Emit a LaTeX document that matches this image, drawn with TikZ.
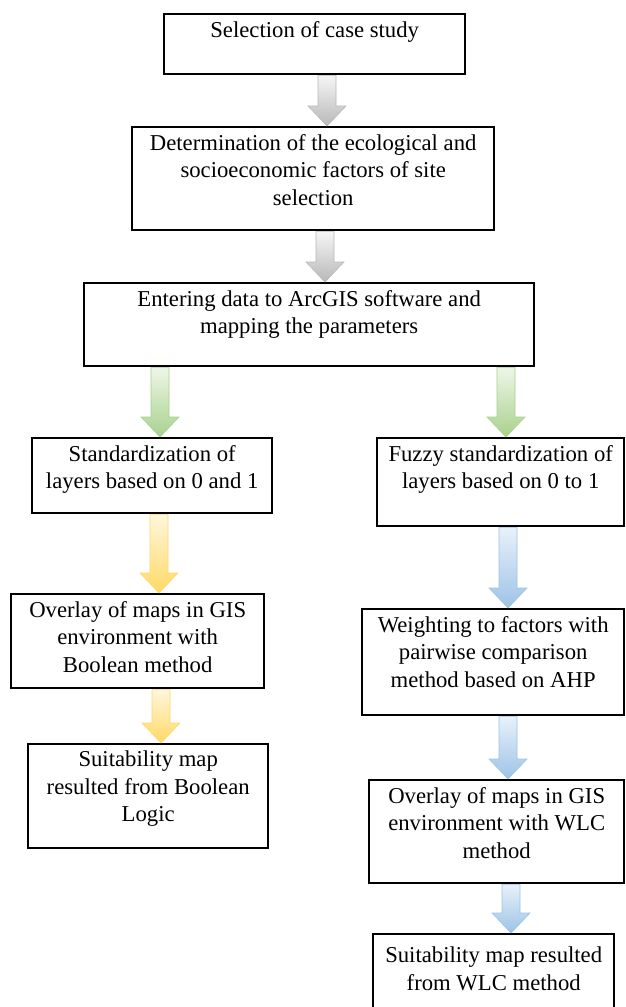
\documentclass[tikz,border=0pt]{standalone}
\usepackage{fontspec}
\setmainfont{Liberation Serif}
\usetikzlibrary{calc}
\definecolor{grD}{HTML}{B8B8B8}\definecolor{grL}{HTML}{F6F6F6}
\definecolor{gnD}{HTML}{A9D18E}\definecolor{gnL}{HTML}{EDF6E7}
\definecolor{ylD}{HTML}{FFD966}\definecolor{ylL}{HTML}{FFF7DE}
\definecolor{blD}{HTML}{9DC3E6}\definecolor{blL}{HTML}{E8F1FA}
\newcommand{\boxtxt}[3]{\parbox[b][#2][t]{#1}{\centering\vspace{7pt}#3\par}}
\tikzset{
  box/.style={draw, line width=2.4pt, inner sep=0pt, anchor=north west,
    font=\fontsize{22.7}{27.5}\selectfont},
  barrow/.style={to path={let \p1=(\tikztostart), \p2=(\tikztotarget) in
     (\x1-9pt,\y1) -- (\x1+9pt,\y1) -- (\x1+9pt,\y2+20pt) -- (\x1+19pt,\y2+20pt)
     -- (\x1,\y2) -- (\x1-19pt,\y2+20pt) -- (\x1-9pt,\y2+20pt) -- cycle}},
  agrey/.style={top color=grL, bottom color=grD, draw=grD, line width=0.6pt},
  agreen/.style={top color=gnL, bottom color=gnD, draw=gnD, line width=0.6pt},
  ayellow/.style={top color=ylL, bottom color=ylD, draw=ylD, line width=0.6pt},
  ablue/.style={top color=blL, bottom color=blD, draw=blD, line width=0.6pt},
}
\begin{document}
\begin{tikzpicture}[x=1pt,y=-1pt]
\useasboundingbox (0,0) rectangle (625,1007);
\fill[white] (0,0) rectangle (625,1007);

\node[box] (sel) at (163,13) {\boxtxt{301pt}{60pt}{Selection of case study}};
\node[box] (det) at (131,126) {\boxtxt{362pt}{103pt}{Determination of the ecological and\\ socioeconomic factors of site\\ selection}};
\node[box] (ent) at (83,282) {\boxtxt{450pt}{83pt}{Entering data to ArcGIS software and\\ mapping the parameters}};
\node[box] (std) at (31,437) {\boxtxt{240pt}{75pt}{Standardization of\\ layers based on 0 and 1}};
\node[box] (fuz) at (376,437) {\boxtxt{247pt}{88pt}{Fuzzy standardization of\\ layers based on 0 to 1}};
\node[box] (ovb) at (10,593) {\boxtxt{253pt}{94pt}{Overlay of maps in GIS\\ environment with\\ Boolean method}};
\node[box] (sub) at (27,743) {\boxtxt{240pt}{104pt}{Suitability map\\ resulted from Boolean\\ Logic}};
\node[box] (wgt) at (361,608) {\boxtxt{262pt}{106pt}{Weighting to factors with\\ pairwise comparison\\ method based on AHP}};
\node[box] (ovw) at (368,779) {\boxtxt{255pt}{103pt}{Overlay of maps in GIS\\ environment with WLC\\ method}};
\node[box] (suw) at (372,933) {\boxtxt{241pt}{77pt}{\vspace{6pt}Suitability map resulted\\ from WLC method}};

\draw[agrey] ([xshift=164pt]sel.south west) to[barrow] (det.north);
\draw[agrey] ([xshift=194pt]det.south west) to[barrow] (ent.north);
\draw[agreen] ([xshift=77pt]ent.south west) to[barrow] (std.north);
\draw[agreen] ([xshift=423pt]ent.south west) to[barrow] (fuz.north);
\draw[ayellow] ([xshift=128pt]std.south west) to[barrow] (ovb.north);
\draw[ayellow] ([xshift=151pt]ovb.south west) to[barrow] (sub.north);
\draw[ablue] ([xshift=132pt]fuz.south west) to[barrow] (wgt.north);
\draw[ablue] ([xshift=147pt]wgt.south west) to[barrow] (ovw.north);
\draw[ablue] ([xshift=143pt]ovw.south west) to[barrow] (suw.north);
\end{tikzpicture}
\end{document}
